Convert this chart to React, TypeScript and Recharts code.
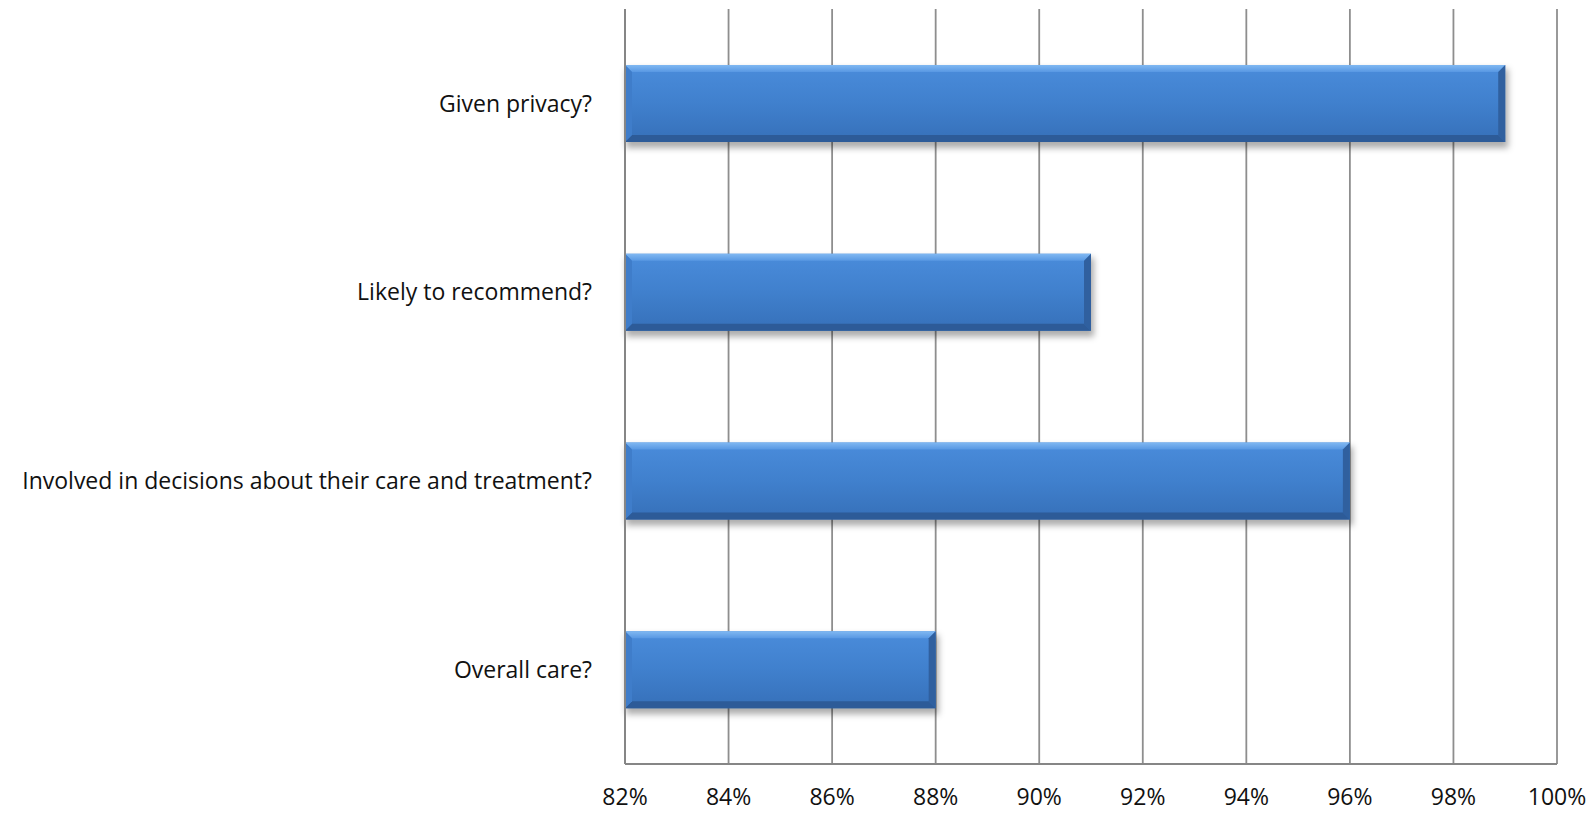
import { BarChart, Bar, XAxis, YAxis, CartesianGrid } from 'recharts';

const categories = [
  'Given privacy?',
  'Likely to recommend?',
  'Involved in decisions about their care and treatment?',
  'Overall care?',
];
const percentValues = [99, 91, 96, 88];
const xTicks = [82, 84, 86, 88, 90, 92, 94, 96, 98, 100];

const data = categories.map((name, i) => ({ name, value: percentValues[i] }));

const FONT = '"Open Sans", sans-serif';

// bevelled bar like the old Excel 2007 style
const BevelBar = (props: any) => {
  const { x, y, width, height } = props;
  const w = width;
  const h = height;
  const b = 7;
  return (
    <g>
      <rect x={x + 1} y={y + 4} width={w + 2} height={h + 2} fill="rgba(0,0,0,0.32)" filter="url(#barShadow)" />
      <rect x={x} y={y} width={w} height={h} fill="url(#barBody)" />
      <polygon points={`${x},${y} ${x + w},${y} ${x + w - b},${y + b} ${x + b},${y + b}`} fill="url(#barTop)" />
      <polygon points={`${x},${y + h} ${x + w},${y + h} ${x + w - b},${y + h - b} ${x + b},${y + h - b}`} fill="#2d5b98" />
      <polygon points={`${x},${y} ${x + b},${y + b} ${x + b},${y + h - b} ${x},${y + h}`} fill="#3f7dca" />
      <polygon points={`${x + w},${y} ${x + w - b},${y + b} ${x + w - b},${y + h - b} ${x + w},${y + h}`} fill="#30609f" />
    </g>
  );
};

export default function App() {
  return (
    <div style={{ position: 'absolute', left: 0, top: 0 }}>
      <svg width={0} height={0} style={{ position: 'absolute' }}>
        <defs>
          <linearGradient id="barBody" x1="0" y1="0" x2="0" y2="1">
            <stop offset="0%" stopColor="#4a8cdb" />
            <stop offset="50%" stopColor="#4080cd" />
            <stop offset="100%" stopColor="#3670b9" />
          </linearGradient>
          <linearGradient id="barTop" x1="0" y1="0" x2="0" y2="1">
            <stop offset="0%" stopColor="#80b8f2" />
            <stop offset="100%" stopColor="#5898e3" />
          </linearGradient>
          <filter id="barShadow" x="-5%" y="-20%" width="110%" height="140%">
            <feGaussianBlur stdDeviation="3" />
          </filter>
        </defs>
      </svg>
      <BarChart
        width={1595}
        height={813}
        data={data}
        layout="vertical"
        margin={{ top: 9, right: 38, bottom: 9, left: 0 }}
      >
        <CartesianGrid horizontal={false} stroke="#8e8e8e" strokeWidth={1.8} />
        <XAxis
          type="number"
          domain={[82, 100]}
          ticks={xTicks}
          tickFormatter={(v: number) => `${v}%`}
          height={40}
          tickSize={0}
          tickMargin={25}
          axisLine={{ stroke: '#868686', strokeWidth: 2 }}
          tickLine={false}
          tick={{ fill: '#111', fontSize: 23, fontFamily: FONT }}
          interval={0}
        />
        <YAxis
          type="category"
          dataKey="name"
          width={625}
          tickSize={0}
          tickMargin={33}
          axisLine={{ stroke: '#868686', strokeWidth: 2 }}
          tickLine={false}
          tick={{ fill: '#111', fontSize: 23, fontFamily: FONT }}
          interval={0}
        />
        <Bar dataKey="value" barSize={77} shape={BevelBar} isAnimationActive={false} />
      </BarChart>
    </div>
  );
}
